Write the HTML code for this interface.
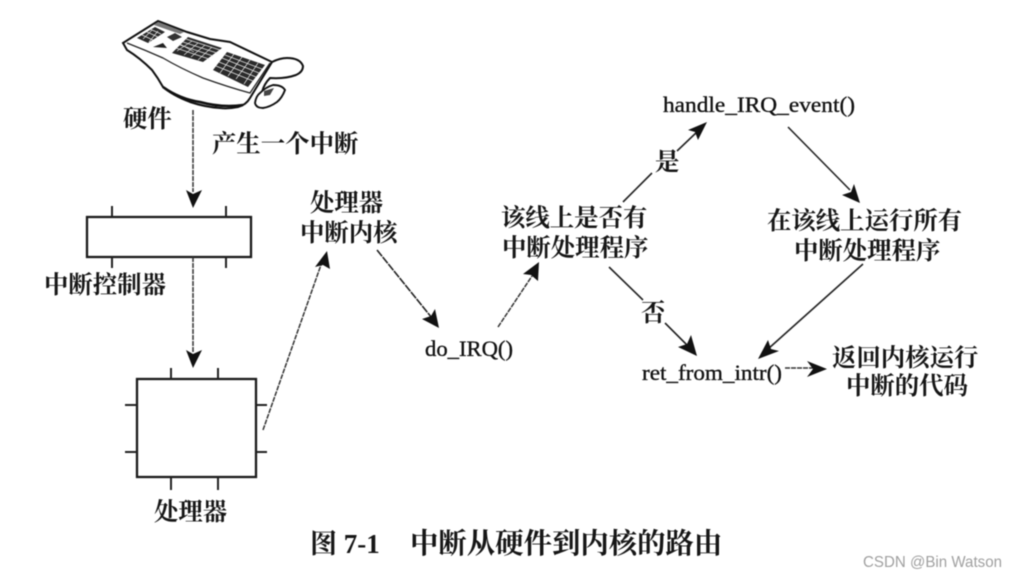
<!DOCTYPE html>
<html lang="zh">
<head>
<meta charset="utf-8">
<style>
html,body{margin:0;padding:0;background:#fff;width:1017px;height:577px;overflow:hidden}
svg{display:block;filter:blur(0.6px)}
.c{font-family:"Liberation Serif","Noto Serif CJK SC",serif;font-size:24.4px;font-weight:700;fill:#161616}
.m{font-family:"Liberation Serif",serif;font-size:22.5px;font-weight:400;fill:#111;stroke:#111;stroke-width:.35px}
.l{stroke:#222;stroke-width:1.6;fill:none}
.d{stroke:#333;stroke-width:1.5;fill:none;stroke-dasharray:5 1}
.b{stroke:#1a1a1a;stroke-width:2.3;fill:none}
.p{stroke:#222;stroke-width:2;fill:none}
.a{fill:#111}
</style>
</head>
<body>
<svg width="1017" height="577" viewBox="0 0 1017 577" xmlns="http://www.w3.org/2000/svg">
  <!-- keyboard -->
  <g>
    <path d="M272 62 Q280 58 287 58 Q300 58 303 66 Q303 72 296 75 Q285 79 270 78 Q264 84 262 92" fill="none" stroke="#111" stroke-width="2"/>
    <path d="M123 43 L158 21 L187 32 L210 39 L230 42 L272 62 L250 98 Q246 105 238 107 Q228 109 220 108 Q205 107 190 102 Q172 95 163 87 Q158 78 152 70 Q140 58 127 50 Z" fill="#fff" stroke="#111" stroke-width="2"/>
    <path d="M127 43 Q145 50 163 58 Q180 68 203 78 Q228 87 250 93 L270 63" fill="none" stroke="#222" stroke-width="1.3"/>
    <path d="M163 87 Q180 99 200 102 Q222 108 243 105" fill="none" stroke="#111" stroke-width="2.6"/>
    <path d="M137 38 L155 27 L165 32 L148 43 Z" fill="#2a2a2a"/>
    <path d="M167 37 L175 33 L182 37 L173 41 Z" fill="#333"/>
    <path d="M153 47 L163 43 L167 48 Z" fill="#222"/>
    <path d="M158 22 L184 32 L180 34 L154 25 Z" fill="#777"/>
    <path d="M172 53 L188 37 L222 48 L203 62 Z" fill="#2a2a2a"/>
    <path d="M213 70 L227 52 L265 65 L248 87 Z" fill="#2a2a2a"/>
    <g stroke="#e8e8e8" stroke-width=".7" fill="none">
      <path d="M142 35 L153 40 M147 32 L158 37 M150 29 L161 34 M143 39 L152 30 M149 42 L158 31"/>
      <path d="M176 48 L209 59 M180 45 L213 56 M183 42 L217 53 M186 39 L220 50"/>
      <path d="M180 44 L194 52 M192 41 L177 51 M198 43 L184 55 M205 45 L191 57 M212 47 L198 60"/>
      <path d="M216 66 L253 81 M219 62 L256 77 M222 58 L259 73 M225 55 L262 69"/>
      <path d="M234 54 L220 73 M242 57 L228 76 M250 60 L236 79 M258 63 L244 84"/>
    </g>
    <path d="M255 103 Q256 96 260 93 Q266 87 273 85 Q282 85 285 90 Q282 98 277 102 Q270 107 263 108 Q256 108 255 103 Z" fill="#fff" stroke="#111" stroke-width="1.9"/>
    <path d="M264 91 L274 88 L270 95 L264 96 Z" fill="#444"/>
  </g>

  <!-- labels -->
  <text class="c" x="123" y="127">硬件</text>
  <text class="c" x="212" y="152">产生一个中断</text>
  <text class="c" x="44" y="293">中断控制器</text>
  <text class="c" x="154" y="520">处理器</text>
  <text class="c" x="310" y="211">处理器</text>
  <text class="c" x="300" y="241">中断内核</text>
  <text class="m" x="425" y="356" textLength="88" lengthAdjust="spacingAndGlyphs">do_IRQ()</text>
  <text class="m" x="663" y="112" textLength="192" lengthAdjust="spacingAndGlyphs">handle_IRQ_event()</text>
  <text class="c" x="501" y="226">该线上是否有</text>
  <text class="c" x="502" y="256">中断处理程序</text>
  <text class="c" x="767" y="229">在该线上运行所有</text>
  <text class="c" x="794" y="259">中断处理程序</text>
  <text class="c" x="655" y="170">是</text>
  <text class="c" x="641" y="321">否</text>
  <text class="m" x="642" y="380" textLength="140" lengthAdjust="spacingAndGlyphs">ret_from_intr()</text>
  <text class="c" x="832" y="366">返回内核运行</text>
  <text class="c" x="846" y="394">中断的代码</text>
  <text class="c" x="310" y="553" style="font-size:27px">图 7-1</text>
  <text class="c" x="410" y="553" style="font-size:28.4px">中断从硬件到内核的路由</text>
  <text x="863" y="567" textLength="139" lengthAdjust="spacingAndGlyphs" style="font-family:'Liberation Sans',sans-serif;font-size:16px;fill:#a0a0a0">CSDN @Bin Watson</text>

  <!-- interrupt controller -->
  <rect x="87" y="217" width="164" height="40" class="b"/>
  <path class="p" d="M112 206V217M226 206V217M112 257V268M226 257V268"/>

  <!-- processor -->
  <rect x="137" y="379" width="119" height="98" class="b"/>
  <path class="p" d="M171 368V379M218 368V379M171 477V490M218 477V490M125 405H137M125 452H137M256 405H267M256 452H267"/>

  <!-- connectors -->
  <path class="d" d="M193 110V192"/>
  <path class="a" d="M186 190 L193 194 L202 190 L193 208 Z"/>
  <path class="d" d="M193 257V352"/>
  <path class="a" d="M186 350 L193 354 L202 350 L193 368 Z"/>
  <path class="d" d="M263 430 L322 262"/>
  <path class="a" d="M327 251 L330 269 L323 265 L315 267 Z"/>
  <path class="l" d="M377 250 L432 318" stroke-dasharray="8 1"/>
  <path class="a" d="M439 328 L422 319 L431 316 L435 309 Z"/>
  <path class="d" d="M498 327 L532 276"/>
  <path class="a" d="M539 262 L538 281 L531 275 L523 274 Z"/>
  <path class="l" d="M623 202 L652 173"/>
  <path class="l" d="M677 151 L698 131"/>
  <path class="a" d="M707 122 L698 140 L695 132 L688 130 Z"/>
  <path class="l" d="M788 127 L850 190"/>
  <path class="a" d="M860 203 L842 195 L851 192 L854 184 Z"/>
  <path class="l" d="M609 267 L643 300"/>
  <path class="l" d="M665 323 L688 346"/>
  <path class="a" d="M697 356 L678 347 L687 344 L691 335 Z"/>
  <path class="l" d="M863 264 L768 349"/>
  <path class="a" d="M758 359 L768 340 L771 349 L779 351 Z"/>
  <path class="d" d="M785 368 H816"/>
  <path class="a" d="M827 369 L807 361 L813 369 L807 377 Z"/>
</svg>
</body>
</html>
